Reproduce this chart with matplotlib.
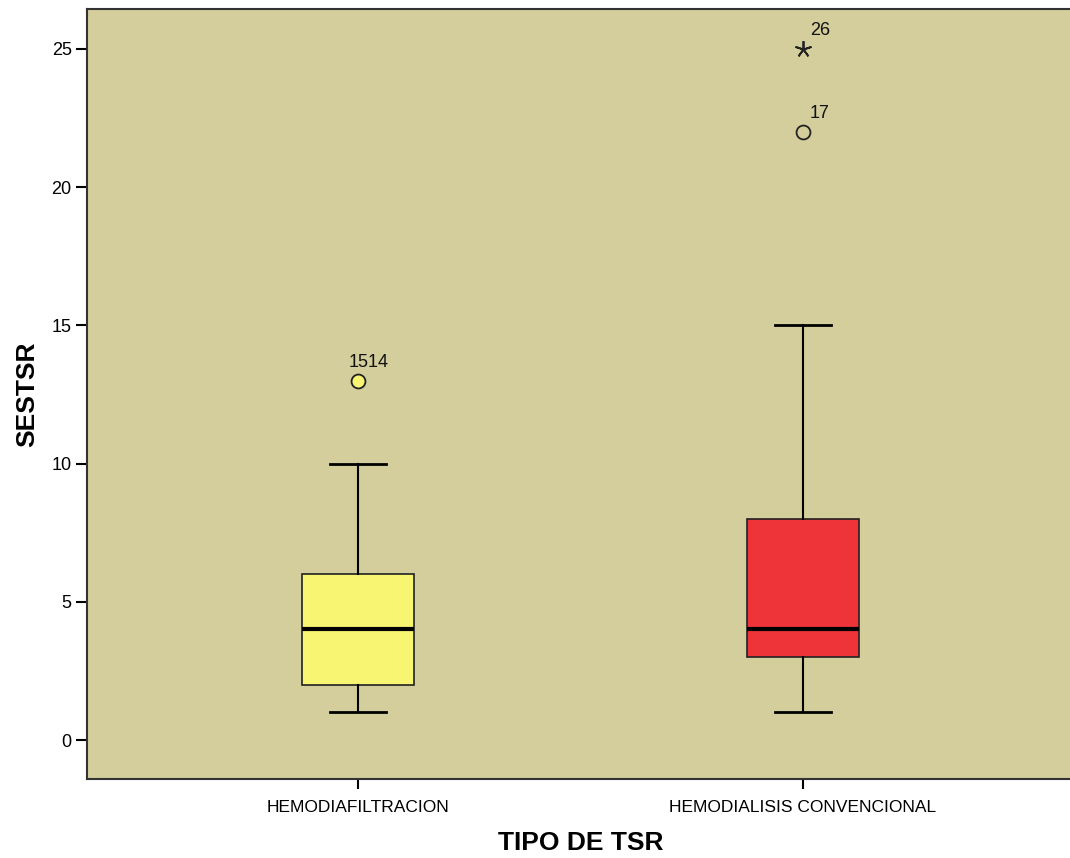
import matplotlib
matplotlib.use("Agg")
import matplotlib.pyplot as plt

plt.rcParams['font.family'] = ['Liberation Sans', 'DejaVu Sans']

# resumen de cada grupo (SESTSR por tipo de TSR)
grupos = ["HEMODIAFILTRACION", "HEMODIALISIS CONVENCIONAL"]
bigote_inf = [1, 1]
q1 = [2, 3]
mediana = [4, 4]
q3 = [6, 8]
bigote_sup = [10, 15]
colores = ["#F8F573", "#EE3339"]

# atipicos: (grupo, valor, etiqueta, tipo)
atip_grupo = [0, 1, 1]
atip_valor = [13, 22, 25]
atip_etiqueta = ["1514", "17", "26"]
atip_extremo = [False, False, True]

fondo = "#D3CE9B"

fig = plt.figure(figsize=(10.7, 8.58), dpi=100)
ax = fig.add_axes([87 / 1070, 1 - 779 / 858, 987 / 1070, 770 / 858])
ax.set_facecolor(fondo)

posiciones = [1, 2]
stats = []
for i in range(len(grupos)):
    stats.append({"whislo": bigote_inf[i], "q1": q1[i], "med": mediana[i],
                  "q3": q3[i], "whishi": bigote_sup[i], "fliers": []})

bp = ax.bxp(stats, positions=posiciones, widths=0.25, patch_artist=True,
            showfliers=False,
            boxprops=dict(edgecolor="#222222", linewidth=1.2),
            medianprops=dict(color="black", linewidth=3),
            whiskerprops=dict(color="black", linewidth=1.5),
            capprops=dict(color="black", linewidth=2),
            capwidths=0.126)
for caja, c in zip(bp["boxes"], colores):
    caja.set_facecolor(c)

for g, v, et, ext in zip(atip_grupo, atip_valor, atip_etiqueta, atip_extremo):
    x = posiciones[g]
    if ext:
        # extremo: asterisco de cinco brazos
        ax.plot(x, v, marker=(5, 2, 0), markersize=12, color="#222222",
                markeredgewidth=1.3, linestyle="none")
    else:
        cara = colores[g] if g == 0 else fondo
        ax.plot(x, v, marker="o", markersize=10, markerfacecolor=cara,
                markeredgecolor="#222222", markeredgewidth=1.3, linestyle="none")
    if g == 0:
        ax.text(x - 0.022, v + 0.35, et, fontsize=13, color="#111111",
                ha="left", va="bottom")
    else:
        ax.text(x + 0.015, v + 0.35, et, fontsize=13, color="#111111",
                ha="left", va="bottom")

ax.set_xlim(0.391, 2.609)
ax.set_ylim(-1.41, 26.44)
ax.set_yticks([0, 5, 10, 15, 20, 25])
ax.set_xticks(posiciones)
ax.set_xticklabels(grupos)
ax.tick_params(axis="y", length=8, width=1.5, labelsize=13, pad=3)
ax.tick_params(axis="x", length=7, width=1.5, labelsize=12.5, pad=8)
for s in ax.spines.values():
    s.set_linewidth(1.5)
    s.set_color("#333333")

ax.set_ylabel("SESTSR", fontsize=19, fontweight="bold", labelpad=9)
ax.set_xlabel("TIPO DE TSR", fontsize=19, fontweight="bold", labelpad=12)

fig.savefig("out.png", dpi=100)
